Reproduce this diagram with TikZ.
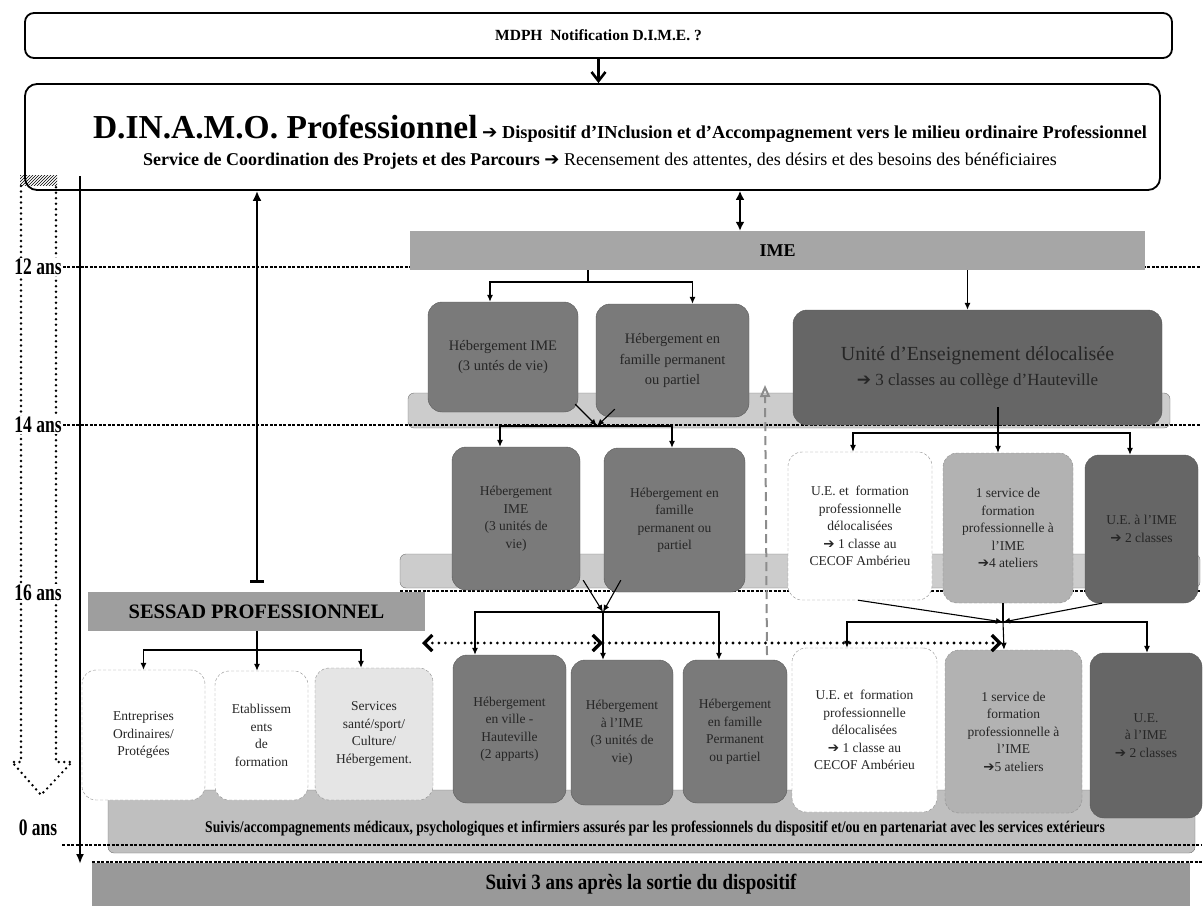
\documentclass[tikz,border=0pt]{standalone}
\usepackage{graphicx}
\usepackage{fontspec}
\setmainfont{Liberation Serif}
\newfontfamily\symfont{DejaVu Sans}
\newcommand{\fleche}{{\symfont ➔}}
\newcommand{\tall}[2][1.3]{\scalebox{1}[#1]{#2}}
\usetikzlibrary{arrows.meta, patterns}

\begin{document}
\begin{tikzpicture}[
  x=1pt, y=-1pt,
  sz/.style 2 args={minimum width=#1pt, minimum height=#2pt},
  frame/.style={draw, line width=1.8pt, rounded corners=9pt, inner sep=0pt},
  bar/.style={fill=#1, inner sep=0pt, font=\fontsize{18}{21}\selectfont\bfseries},
  band/.style={draw=black!55, fill=black!20, rounded corners=6pt, inner sep=0pt},
  cell/.style={draw=black!65, rounded corners=14pt, inner sep=1pt, align=center, text=black!85, font=\fontsize{13.5}{17.5}\selectfont},
  dark/.style={cell, fill=black!52},
  darker/.style={cell, fill=black!60},
  mid/.style={cell, fill=black!30, draw=black!45, densely dashed},
  pale/.style={cell, fill=white, draw=black!45, densely dashed},
  age/.style={fill=white, inner sep=1pt, font=\fontsize{17.5}{20}\selectfont\bfseries},
  ageline/.style={dash pattern=on 3pt off 1.5pt, line width=1.1pt},
  link/.style={line width=1.1pt},
  tip/.style={link, -{Latex[length=7pt,width=6pt]}},
  heavy/.style={line width=2.6pt},
  dots/.style={line width=3.2pt, line cap=round, dash pattern=on 0pt off 6.5pt}
]
  \useasboundingbox (0,0) rectangle (1203,907);

  % MDPH notification
  \node[frame, sz={1147}{45}, font=\fontsize{15.5}{18}\selectfont\bfseries] (mdph) at (598.5,35.5) {MDPH\ \ Notification D.I.M.E. ?};

  % D.IN.A.M.O. frame and its two lines
  \node[frame, rounded corners=12pt, sz={1135}{106}] (dinamo) at (592.5,137) {};
  \node[anchor=base, inner sep=0pt, font=\fontsize{18.3}{21}\selectfont\bfseries] (dtitle) at (620,139)
    {{\fontsize{33.5}{34}\selectfont D.IN.A.M.O. Professionnel} \fleche{} Dispositif d’INclusion et d’Accompagnement vers le milieu ordinaire Professionnel};
  \node[anchor=base, inner sep=0pt, font=\fontsize{18}{21}\selectfont] (dsub) at (600,165)
    {\textbf{Service de Coordination des Projets et des Parcours} \fleche{} Recensement des attentes, des désirs et des besoins des bénéficiaires};

  % age scale (dotted block arrow)
  \draw[line width=2.7pt, line cap=round, dash pattern=on 0pt off 5.5pt] (21,186) -- (21,762) -- (12,762) -- (41,795) -- (72,762) -- (56,762) -- (56,186);
  \fill[pattern=north east lines] (20,175) rectangle (57,185);
  \node[age] (a12) at (38,267) {\tall[1.35]{12 ans}};
  \node[age] (a14) at (38,425) {\tall[1.35]{14 ans}};
  \node[age] (a16) at (38,593) {\tall[1.35]{16 ans}};
  \node[age] (a0) at (38,828) {\tall[1.35]{0 ans}};

  % bands behind the rows
  \node[band, sz={762}{35}] (band1) at (789,410.5) {};
  \node[band, sz={800}{34}] (band2) at (800,571) {};
  \node[band, fill=black!25, sz={1087}{63}] (suivis) at (651.5,821.5) {};
  \node[font=\fontsize{13.6}{15}\selectfont\bfseries] (suivistxt) at (655,829)
    {\tall[1.2]{Suivis/accompagnements médicaux, psychologiques et infirmiers assurés par les professionnels du dispositif et/ou en partenariat avec les services extérieurs}};

  % age lines
  \coordinate (rim) at (1201,0);
  \draw[ageline] (a12.east) -- (a12.east -| rim);
  \draw[ageline] (a14.east) -- (a14.east -| rim);
  \draw[ageline] (400,591) -- (1201,591);
  \draw[ageline] (62,845) -- (1201,845);
  \draw[ageline] (92,862) -- (1203,862);

  % bars
  \node[bar=black!35, sz={735}{39}] (ime) at (777.5,250.5) {IME};
  \node[bar=black!38, sz={337}{39}, font=\fontsize{20.5}{23}\selectfont\bfseries] (sessad) at (256.5,611.5) {SESSAD PROFESSIONNEL};
  \node[bar=black!40, sz={1098}{43}, font=\fontsize{19}{22}\selectfont\bfseries] (apres) at (641,884) {\tall[1.15]{Suivi 3 ans après la sortie du dispositif}};

  % row 12-14 ans
  \node[dark, sz={150}{110}, font=\fontsize{14.5}{20}\selectfont] (h1a) at (503,357) {Hébergement IME\\(3 untés de vie)};
  \node[dark, sz={153}{113}, font=\fontsize{14.5}{20}\selectfont] (h1b) at (672.5,360.5) {Hébergement en\\famille permanent\\ou partiel};
  \node[darker, sz={369}{115}, font=\fontsize{20}{25}\selectfont] (ue1) at (977.5,367.5)
    {Unité d’Enseignement délocalisée\\{\fontsize{17}{20}\selectfont\fleche{} 3 classes au collège d’Hauteville}};

  % row 14-16 ans
  \node[dark, sz={128}{143}] (h2a) at (516,518.5) {Hébergement\\IME\\(3 unités de\\vie)};
  \node[dark, sz={141}{144}] (h2b) at (674.5,520) {Hébergement en\\famille\\permanent ou\\partiel};
  \node[pale, sz={144}{148}] (ue2a) at (860,526) {U.E. et\ \ formation\\professionnelle\\délocalisées\\\fleche{} 1 classe au\\CECOF Ambérieu};
  \node[mid, sz={130}{150}] (s2) at (1008,528) {1 service de\\formation\\professionnelle à\\l’IME\\\fleche{}4 ateliers};
  \node[darker, sz={113}{148}] (ue2c) at (1141.5,529) {U.E. à l’IME\\\fleche{} 2 classes};

  % SESSAD partners
  \node[pale, sz={123}{130}] (ent) at (143.5,735) {Entreprises\\Ordinaires/\\Protégées};
  \node[pale, sz={93}{129}] (etab) at (261.5,735.5) {Etablissem\\ents\\de\\formation};
  \node[pale, fill=black!10, sz={118}{132}] (serv) at (374,734) {Services\\santé/sport/\\Culture/\\Hébergement.};

  % row 16 ans and more
  \node[dark, sz={113}{148}] (h3a) at (509.5,729) {Hébergement\\en ville -\\Hauteville\\(2 apparts)};
  \node[dark, sz={102}{145}] (h3b) at (622,732.5) {Hébergement\\à l’IME\\(3 unités de\\vie)};
  \node[dark, sz={104}{143}] (h3c) at (735,731.5) {Hébergement\\en famille\\Permanent\\ou partiel};
  \node[pale, sz={145}{164}] (ue3a) at (864.5,730) {U.E. et\ \ formation\\professionnelle\\délocalisées\\\fleche{} 1 classe au\\CECOF Ambérieu};
  \node[mid, sz={137}{163}] (s3) at (1013.5,731.5) {1 service de\\formation\\professionnelle à\\l’IME\\\fleche{}5 ateliers};
  \node[darker, sz={112}{165}] (ue3c) at (1146,735.5) {U.E.\\à l’IME\\\fleche{} 2 classes};

  % MDPH -> DINAMO, DINAMO <-> IME
  \draw[heavy, -{Straight Barb[length=9pt,width=14pt]}] (mdph.south) -- (mdph.south |- dinamo.north);
  \coordinate (col740) at (740,0);
  \draw[heavy, {Latex[length=9pt,width=9pt]}-{Latex[length=9pt,width=9pt]}] (col740 |- dinamo.south) -- (col740 |- ime.north);

  % IME -> first row
  \coordinate (j1) at (588,282);
  \draw[link] (ime.south -| j1) -- (j1);
  \draw[tip] (j1) -| ([xshift=-13pt]h1a.north);
  \draw[tip] (j1) -| ([xshift=20pt]h1b.north);
  \draw[tip] ([xshift=-10pt]ue1.north |- ime.south) -- ([xshift=-10pt]ue1.north);

  % first row -> second row
  \coordinate (j2) at (597,426);
  \draw[tip] ([xshift=-3pt,yshift=8pt]h1a.south east) -- (j2);
  \draw[tip] ([xshift=19pt,yshift=8pt]h1b.south west) -- (j2);
  \draw[tip] (j2) -| ([xshift=-16pt]h2a.north);
  \draw[tip] (j2) -| ([xshift=-2.5pt]h2b.north);
  \coordinate (j3) at (998,433);
  \draw[link] (j3) -- ++(0,-26);
  \draw[tip] (j3) -| ([xshift=-7pt]ue2a.north);
  \draw[tip] (j3) -- ([xshift=-10pt]s2.north);
  \draw[tip] (j3) -| ([xshift=-11.5pt]ue2c.north);

  % second row -> third row
  \coordinate (j4) at (603,612);
  \draw[tip] ([xshift=3pt,yshift=10pt]h2a.south east) -- (j4);
  \draw[tip] ([xshift=17pt,yshift=12pt]h2b.south west) -- (j4);
  \draw[tip] (j4) -| ([xshift=-34.5pt]h3a.north);
  \draw[tip] (j4) -- ([xshift=-19pt]h3b.north);
  \draw[tip] (j4) -| ([xshift=-16pt]h3c.north);
  \coordinate (j5) at (1003,622);
  \draw[tip] ([xshift=-2pt]ue2a.south) -- (j5);
  \draw[tip] ([xshift=-39.5pt]ue2c.south) -- (j5);
  \draw[link] ([xshift=-5pt]s2.south) -- (j5);
  \draw[tip] (j5) -| ([xshift=-17.5pt]ue3a.north);
  \draw[tip] (j5) -- ([xshift=-9.5pt]s3.north);
  \draw[tip] (j5) -| ([xshift=1pt]ue3c.north);

  % SESSAD -> partners, SESSAD -> DINAMO
  \coordinate (j6) at (257,650);
  \draw[link] (sessad.south -| j6) -- (j6);
  \draw[tip] (j6) -| (ent.north);
  \draw[tip] (j6) -- ([xshift=-4.5pt]etab.north);
  \draw[tip] (j6) -| ([xshift=-13pt]serv.north);
  \coordinate (sbar) at (257,583);
  \draw[heavy, {Bar[width=14pt]}-{Latex[length=10pt,width=9pt]}] (sbar) -- (sbar |- dinamo.south);

  % dotted passage arrow
  \coordinate (dl) at (422,643);
  \coordinate (dm) at (603,643);
  \coordinate (dr) at (1002,643);
  \draw[dots, {Straight Barb[length=8pt,width=16pt]}-{Straight Barb[length=8pt,width=16pt]}] (dl) -- (dm);
  \draw[dots, -{Straight Barb[length=8pt,width=16pt]}] (dm) -- (dr);

  % gray dashed return arrow
  \coordinate (g1) at (767,655);
  \coordinate (g2) at (765,385);
  \draw[black!45, line width=2pt, dash pattern=on 9pt off 5pt, -{Triangle[open,length=12pt,width=10pt]}] (g1) -- (g2);

  % time line
  \coordinate (t0) at (80,176);
  \coordinate (t1) at (80,864);
  \draw[heavy, -{Latex[length=10pt,width=8pt]}] (t0) -- (t1);
\end{tikzpicture}
\end{document}
